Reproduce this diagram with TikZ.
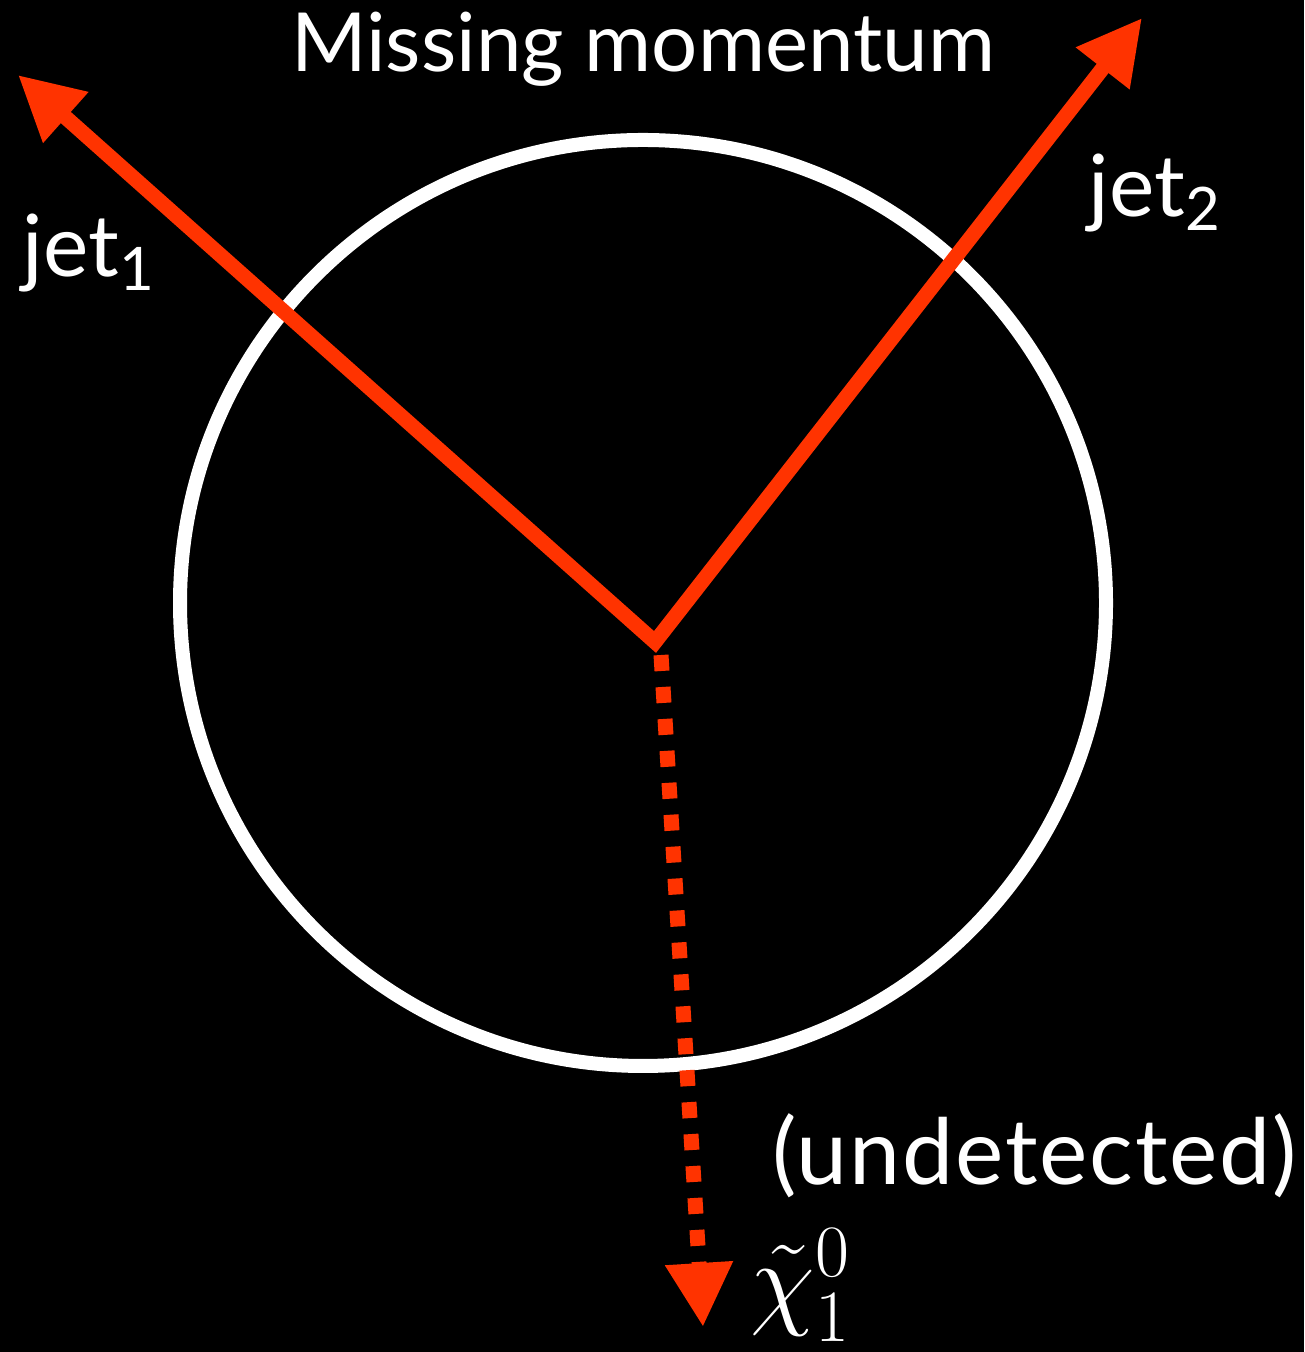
\RequirePackage{fix-cm}
\documentclass[tikz,border=0pt]{standalone}
\usepackage{fontspec}
\setmainfont{Lato}
\usetikzlibrary{arrows.meta, positioning}
\definecolor{jetred}{RGB}{255,51,0}

\begin{document}
\begin{tikzpicture}[
  jetline/.style={draw=jetred, line width=0.15cm, line join=miter},
  jettip/.style={-{Triangle[length=0.64cm, width=0.64cm]}},
  lspline/.style={draw=jetred, line width=0.15cm, dash pattern=on 0.16cm off 0.16cm},
  lbl/.style={text=white, inner sep=0pt, font=\fontsize{23.2}{26}\selectfont},
  detector/.style={circle, draw=white, line width=0.14cm, minimum size=9.26cm, inner sep=0pt}]
  % Background
  \fill[black] (0,0) rectangle (13.04,13.52);
  \useasboundingbox (0,0) rectangle (13.04,13.52);
  % Detector
  \node[detector] (det) at (6.43,7.49) {};
  % Vertex and ends
  \coordinate (vtx) at (6.55,7.10);
  \coordinate (jet1end) at (0.18,12.77);
  \coordinate (jet2end) at (11.42,13.34);
  \coordinate (lspstart) at (6.61,6.97);
  \coordinate (lspend) at (7.03,0.25);
  % Jets
  \draw[jetline, {Triangle[length=0.64cm, width=0.64cm]}-{Triangle[length=0.64cm, width=0.64cm]}] (jet1end) -- (vtx) -- (jet2end);
  % Neutralino
  \draw[lspline, jettip] (lspstart) -- (lspend);
  % Labels
  \node[lbl, anchor=base] (title) at (6.43,12.80) {Missing momentum};
  \node[lbl, anchor=base west, font=\fontsize{24.4}{27}\selectfont] (jet1) at (0.22,10.75) {jet\textsubscript{1}};
  \node[lbl, anchor=base west, font=\fontsize{24.4}{27}\selectfont] (jet2) at (10.88,11.35) {jet\textsubscript{2}};
  \node[lbl, anchor=base west, font=\fontsize{26}{29}\selectfont\addfontfeatures{LetterSpace=2}] (undet) at (7.72,1.67) {(undetected)};
  \node[lbl, anchor=base west, font=\fontsize{30}{32}\selectfont] (lsp) at (7.50,0.37) {$\tilde{\chi}_1^0$};
\end{tikzpicture}
\end{document}
